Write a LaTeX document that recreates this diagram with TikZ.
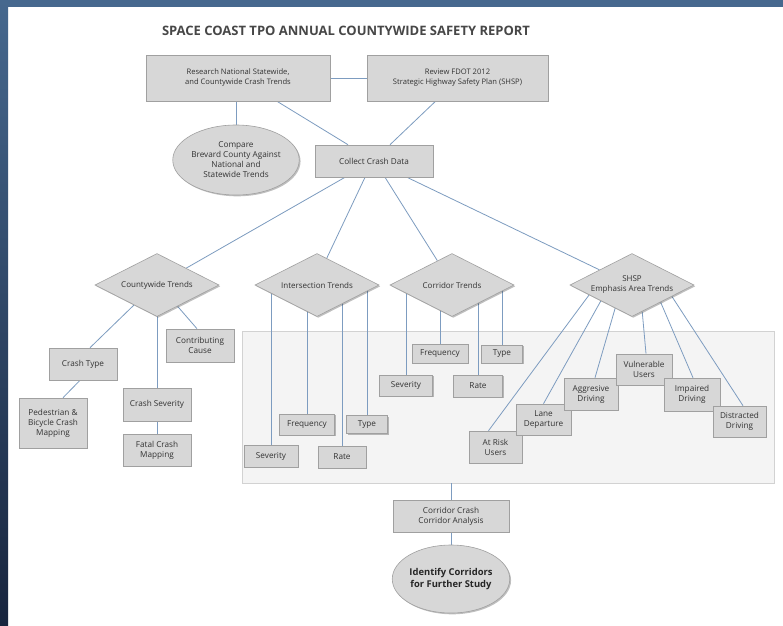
\documentclass[tikz,border=0pt]{standalone}
\usepackage{fontspec}
\setmainfont{Open Sans}
\usetikzlibrary{shapes.geometric,shadows,backgrounds}
\definecolor{bluetop}{HTML}{46688E}
\definecolor{bluebot}{HTML}{18253E}
\definecolor{boxfill}{HTML}{D7D7D7}
\definecolor{boxdraw}{HTML}{A0A0A0}
\definecolor{linkc}{HTML}{7D9CC0}
\definecolor{txt}{HTML}{333333}
\definecolor{panelfill}{HTML}{F4F4F4}
\definecolor{paneldraw}{HTML}{D2D2D2}
\tikzset{
  base/.style={fill=boxfill, draw=boxdraw, line width=0.6pt, text=txt, align=center,
    inner sep=0pt, font=\fontsize{8.2}{10}\selectfont,
    drop shadow={shadow xshift=1.3pt, shadow yshift=-1.3pt, fill=black, opacity=0.25}},
  box/.style={base, rectangle},
  oval/.style={base, ellipse},
  dia/.style={base, diamond, minimum width=124pt, minimum height=63pt},
  dialabel/.style={text=txt, align=center, font=\fontsize{8}{10}\selectfont},
  link/.style={draw=linkc, line width=0.8pt},
}
\begin{document}
\begin{tikzpicture}[x=1pt,y=-1pt]
\useasboundingbox (0,0) rectangle (783,625);
\begin{scope}[on background layer]
\fill[white] (0,0) rectangle (783,625);
\fill[bluetop] (0,0) rectangle (783,7);
\shade[top color=bluetop, bottom color=bluebot] (0,0) rectangle (8,625);
\end{scope}

\node[text=txt!90, font=\fontsize{13}{15}\selectfont\bfseries] (title) at (346,31) {SPACE COAST TPO ANNUAL COUNTYWIDE SAFETY REPORT};

% top level
\node[box, minimum width=184pt, minimum height=46pt, font=\fontsize{7.6}{10}\selectfont] (research) at (238,78) {Research National Statewide,\\and Countywide Crash Trends};
\node[box, minimum width=181pt, minimum height=46pt, font=\fontsize{7.6}{10}\selectfont] (review) at (457.5,78) {Review FDOT 2012\\Strategic Highway Safety Plan (SHSP)};
\node[oval, minimum width=114pt, minimum height=70pt] (compare) at (236,160) {Compare\\Brevard County Against\\National and\\Statewide Trends};
\node[box, minimum width=118pt, minimum height=32pt] (collect) at (374,161) {Collect Crash Data};

% diamonds
\node[dia, label={[dialabel]center:Countywide Trends}] (cw) at (157,285) {};
\node[dia, label={[dialabel]center:Intersection Trends}] (it) at (317,285) {};
\node[dia, label={[dialabel]center:Corridor Trends}] (cor) at (452,285) {};
\node[dia, label={[dialabel]center:SHSP\\Emphasis Area Trends}] (shsp) at (632,285) {};

% countywide children
\node[box, minimum width=68pt, minimum height=32pt] (ctype) at (83,364) {Crash Type};
\node[box, minimum width=68pt, minimum height=50pt] (ped) at (53,423) {Pedestrian \&\\Bicycle Crash\\Mapping};
\node[box, minimum width=68pt, minimum height=33pt] (csev) at (157,404.5) {Crash Severity};
\node[box, minimum width=68pt, minimum height=32pt] (fatal) at (157,450) {Fatal Crash\\Mapping};
\node[box, minimum width=68pt, minimum height=33pt] (contrib) at (200,345.5) {Contributing\\Cause};

% intersection children
\node[box, minimum width=54pt, minimum height=22pt] (isev) at (271,456) {Severity};
\node[box, minimum width=55pt, minimum height=21pt] (ifreq) at (307,424.5) {Frequency};
\node[box, minimum width=48pt, minimum height=22pt] (irate) at (342,457) {Rate};
\node[box, minimum width=41pt, minimum height=18pt] (itype) at (367,424.5) {Type};

% corridor children
\node[box, minimum width=56pt, minimum height=19pt] (cfreq) at (440,353.5) {Frequency};
\node[box, minimum width=41pt, minimum height=18pt] (ctyp) at (502,354) {Type};
\node[box, minimum width=53pt, minimum height=21pt] (csv) at (406,385.5) {Severity};
\node[box, minimum width=49pt, minimum height=22pt] (crate) at (478,386) {Rate};

% SHSP children
\node[box, minimum width=53pt, minimum height=32pt] (atrisk) at (495.5,447) {At Risk\\Users};
\node[box, minimum width=55pt, minimum height=31pt] (lane) at (543.5,419.5) {Lane\\Departure};
\node[box, minimum width=54pt, minimum height=32pt] (aggr) at (591,394) {Aggresive\\Driving};
\node[box, minimum width=56pt, minimum height=31pt] (vuln) at (644,369.5) {Vulnerable\\Users};
\node[box, minimum width=56pt, minimum height=33pt] (impaired) at (692,394.5) {Impaired\\Driving};
\node[box, minimum width=53pt, minimum height=31pt] (distracted) at (739.5,421.5) {Distracted\\Driving};

% bottom
\node[box, minimum width=116pt, minimum height=32pt] (ccrash) at (451,516) {Corridor Crash\\Corridor Analysis};
\node[oval, minimum width=113pt, minimum height=68pt, font=\fontsize{9.4}{11.5}\selectfont\bfseries, text=black!85] (identify) at (451,579) {Identify Corridors\\for Further Study};

\begin{scope}[on background layer]
  \node[fill=panelfill, draw=paneldraw, line width=0.6pt, minimum width=532pt, minimum height=152pt, inner sep=0pt] (panel) at (508,407) {};
  % top
  \draw[link] (research) -- (review);
  \draw[link] (research.south -| compare.north) -- (compare.north);
  \draw[link] ([xshift=39pt]research.south) -- ([xshift=-26pt]collect.north);
  \draw[link] ([xshift=-22pt]review.south) -- ([xshift=16pt]collect.north);
  % collect to diamonds
  \draw[link] ([xshift=-29pt]collect.south) -- (cw.30);
  \draw[link] ([xshift=-9pt]collect.south) -- (it.70);
  \draw[link] ([xshift=11pt]collect.south) -- (cor.121);
  \draw[link] ([xshift=33pt]collect.south) -- (shsp.155);
  % countywide
  \draw[link] (cw.221) -- ([xshift=7pt]ctype.north);
  \draw[link] (cw.center) -- (csev.north);
  \draw[link] (csev.south) -- (fatal.north);
  \draw[link] (cw.314) -- ([xshift=-3pt]contrib.north);
  \draw[link] ([xshift=-3pt]ctype.south) -- ([xshift=10pt]ped.north);
  % intersection
  \foreach \n in {isev,ifreq,irate,itype} \draw[link] (\n.north) -- (\n.north |- it.center);
  % corridor
  \foreach \n in {cfreq,ctyp,csv,crate} \draw[link] (\n.north) -- (\n.north |- cor.center);
  % shsp
  \draw[link] (shsp.193) -- ([xshift=-7pt]atrisk.north);
  \draw[link] (shsp.207) -- (lane.north);
  \draw[link] (shsp.234) -- ([xshift=4pt]aggr.north);
  \draw[link] (shsp.291) -- ([xshift=2pt]vuln.north);
  \draw[link] (shsp.329) -- ([xshift=1pt]impaired.north);
  \draw[link] (shsp.344) -- ([xshift=3.5pt]distracted.north);
  % bottom
  \draw[link] (ccrash.north |- panel.south) -- (ccrash.north);
  \draw[link] (ccrash.south) -- (identify.north);
\end{scope}
\end{tikzpicture}
\end{document}
